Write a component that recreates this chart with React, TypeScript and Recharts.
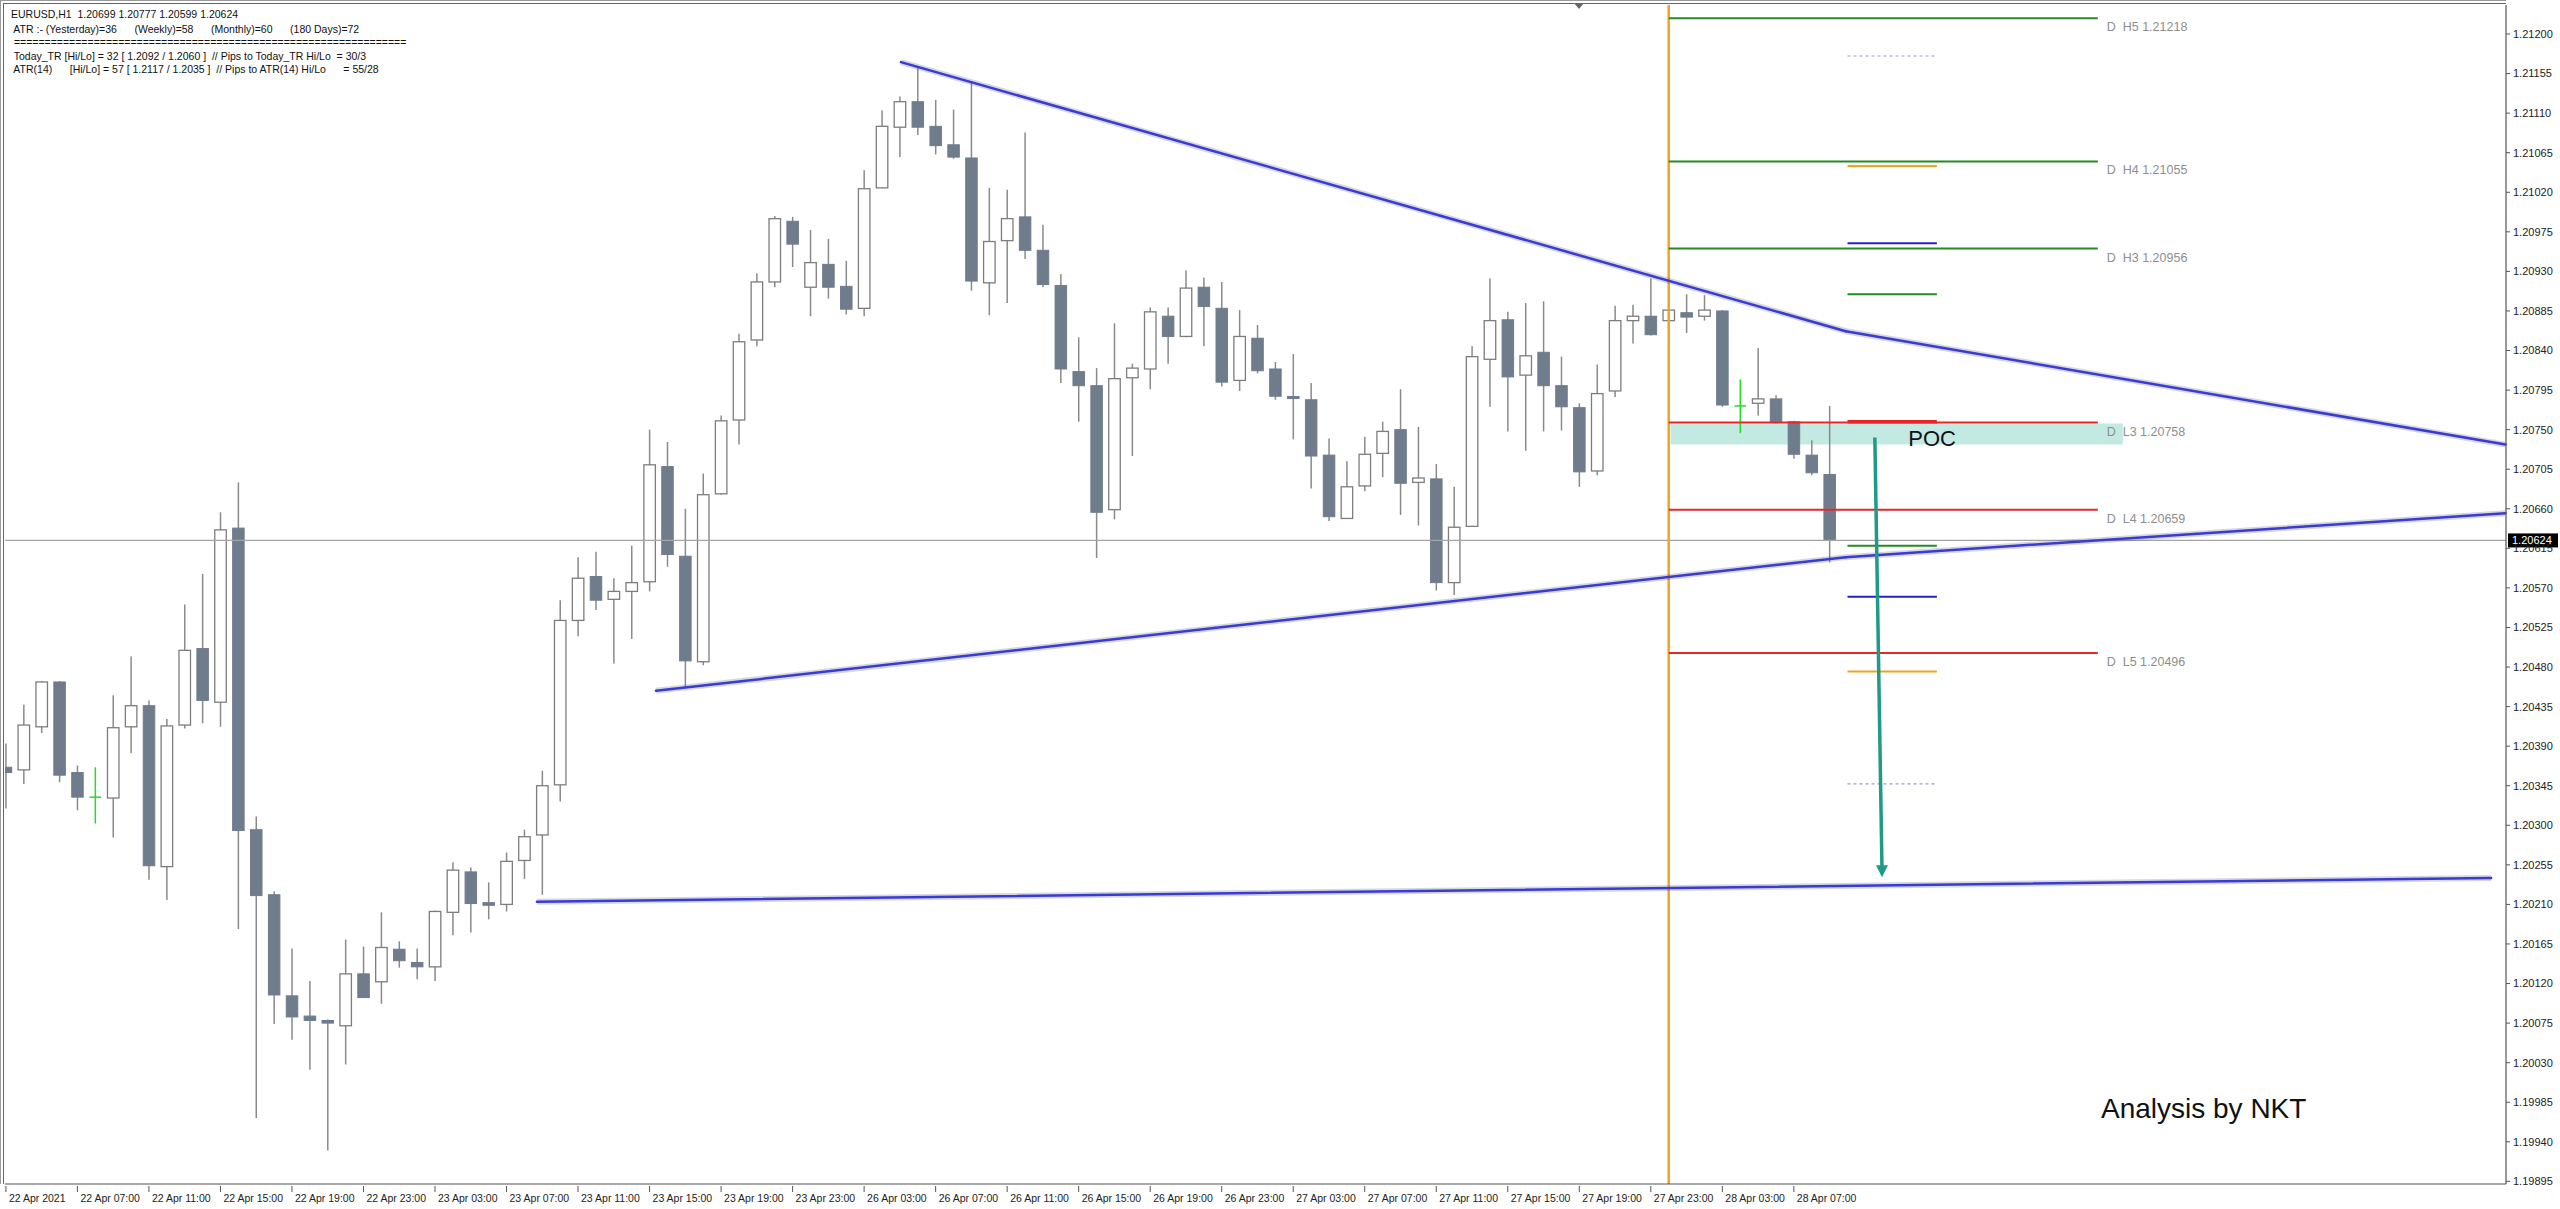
import React from "react";
import {
  ComposedChart,
  Bar,
  XAxis,
  YAxis,
  ReferenceLine,
  ReferenceArea,
  ReferenceDot,
} from "recharts";

// ---------- DATA ----------
const opens = [
  1.20366, 1.20363, 1.20412, 1.20463, 1.2036, 1.20332, 1.20331, 1.20412, 1.20436, 1.20253,
  1.20414, 1.20501, 1.2044, 1.20638, 1.20295, 1.20221, 1.20106, 1.20083, 1.20078, 1.20072,
  1.20131, 1.20122, 1.20159, 1.20144, 1.20139, 1.20201, 1.20247, 1.20212, 1.2021, 1.2026,
  1.20289, 1.20346, 1.20533, 1.20583, 1.20557, 1.20566, 1.20577, 1.20708, 1.20606, 1.20486,
  1.20677, 1.20761, 1.20852, 1.20918, 1.20987, 1.20912, 1.20938, 1.20913, 1.20888, 1.21025,
  1.21094, 1.21123, 1.21095, 1.21074, 1.21059, 1.20917, 1.20965, 1.20992, 1.20954, 1.20914,
  1.20816, 1.208, 1.20659, 1.20809, 1.20819, 1.20879, 1.20856, 1.20912, 1.20888, 1.20806,
  1.20854, 1.20819, 1.20787, 1.20784, 1.20721, 1.20649, 1.20686, 1.20723, 1.2075, 1.2069,
  1.20694, 1.20576, 1.2064, 1.2083, 1.20875, 1.20812, 1.20838, 1.208, 1.20775, 1.20703,
  1.20794, 1.20874, 1.20879, 1.20874, 1.20883, 1.20879, 1.20885, 1.20777, 1.2078, 1.20785,
  1.20759, 1.20721, 1.20699,
];
const highs = [
  1.20393, 1.20437, 1.20464, 1.20464, 1.20368, 1.20366, 1.20448, 1.20492, 1.20442, 1.20421,
  1.20551, 1.20586, 1.20656, 1.2069, 1.2031, 1.20225, 1.2016, 1.20123, 1.20079, 1.2017,
  1.20162, 1.20201, 1.20168, 1.2016, 1.20203, 1.20258, 1.20252, 1.20235, 1.20269, 1.20295,
  1.20362, 1.20556, 1.20605, 1.20611, 1.20581, 1.20618, 1.2075, 1.20736, 1.2066, 1.207,
  1.20766, 1.20859, 1.20928, 1.20993, 1.20992, 1.20977, 1.20967, 1.20942, 1.21045, 1.21113,
  1.21129, 1.21162, 1.21125, 1.21114, 1.21145, 1.21025, 1.21023, 1.21088, 1.20983, 1.20927,
  1.20855, 1.2082, 1.20871, 1.20825, 1.20889, 1.20889, 1.20931, 1.20923, 1.20918, 1.20886,
  1.20869, 1.20827, 1.20836, 1.20803, 1.2074, 1.20714, 1.20742, 1.20759, 1.20796, 1.20753,
  1.20711, 1.20685, 1.20845, 1.20922, 1.20884, 1.20894, 1.20896, 1.20833, 1.2078, 1.20824,
  1.20891, 1.20892, 1.20922, 1.20908, 1.20904, 1.20903, 1.20886, 1.20807, 1.20843, 1.20789,
  1.2076, 1.20738, 1.20777,
];
const lows = [
  1.20319, 1.20347, 1.20405, 1.20349, 1.20317, 1.20302, 1.20286, 1.20382, 1.20238, 1.20215,
  1.2041, 1.20416, 1.20412, 1.20182, 1.19967, 1.20074, 1.20056, 1.20022, 1.1993, 1.20028,
  1.20104, 1.20097, 1.20138, 1.20125, 1.20123, 1.20175, 1.20178, 1.20193, 1.20202, 1.20239,
  1.20221, 1.20327, 1.20515, 1.20545, 1.20484, 1.20512, 1.20566, 1.20594, 1.20456, 1.20482,
  1.20676, 1.20733, 1.20845, 1.20912, 1.20935, 1.20879, 1.20899, 1.20881, 1.20879, 1.21025,
  1.2106, 1.21085, 1.21063, 1.21058, 1.20908, 1.2088, 1.20894, 1.20944, 1.20912, 1.20803,
  1.20759, 1.20604, 1.20648, 1.2072, 1.20796, 1.20825, 1.20855, 1.20845, 1.20799, 1.20794,
  1.20814, 1.20784, 1.20739, 1.20683, 1.20646, 1.20649, 1.2068, 1.20696, 1.20653, 1.20641,
  1.20567, 1.20562, 1.2064, 1.20776, 1.20748, 1.20726, 1.20748, 1.20749, 1.20685, 1.20698,
  1.20787, 1.20848, 1.20857, 1.20852, 1.2086, 1.20874, 1.20776, 1.20746, 1.20766, 1.20757,
  1.20717, 1.20698, 1.20599,
];
const closes = [
  1.2036, 1.20414, 1.20463, 1.20357, 1.20332, 1.20332, 1.20411, 1.20436, 1.20254, 1.20413,
  1.20499, 1.20442, 1.20636, 1.20294, 1.2022, 1.20107, 1.20082, 1.20078, 1.20075, 1.20131,
  1.20104, 1.20161, 1.20146, 1.20139, 1.20202, 1.20249, 1.20211, 1.20209, 1.20259, 1.20287,
  1.20345, 1.20533, 1.20581, 1.20556, 1.20566, 1.20576, 1.2071, 1.20608, 1.20487, 1.20676,
  1.2076, 1.2085, 1.20918, 1.2099, 1.20961, 1.2094, 1.20912, 1.20887, 1.21024, 1.21095,
  1.21123, 1.21094, 1.21073, 1.2106, 1.20919, 1.20964, 1.2099, 1.20954, 1.20915, 1.20819,
  1.208, 1.20656, 1.20808, 1.2082, 1.20884, 1.20856, 1.20911, 1.2089, 1.20804, 1.20856,
  1.20817, 1.20788, 1.20786, 1.2072, 1.20651, 1.20685, 1.20722, 1.20748, 1.20689, 1.20695,
  1.20576, 1.20639, 1.20833, 1.20874, 1.2081, 1.20834, 1.208, 1.20776, 1.20702, 1.20791,
  1.20874, 1.20879, 1.20858, 1.20886, 1.20878, 1.20886, 1.20778, 1.20777, 1.20785, 1.20758,
  1.20722, 1.20701, 1.20624,
];

const xTickBars = [0, 4, 8, 12, 16, 20, 24, 28, 32, 36, 40, 44, 48, 52, 56, 60, 64, 68, 72, 76, 80, 84, 88, 92, 96, 100];
const xTickLabels = [
  "22 Apr 2021", "22 Apr 07:00", "22 Apr 11:00", "22 Apr 15:00", "22 Apr 19:00", "22 Apr 23:00",
  "23 Apr 03:00", "23 Apr 07:00", "23 Apr 11:00", "23 Apr 15:00", "23 Apr 19:00", "23 Apr 23:00",
  "26 Apr 03:00", "26 Apr 07:00", "26 Apr 11:00", "26 Apr 15:00", "26 Apr 19:00", "26 Apr 23:00",
  "27 Apr 03:00", "27 Apr 07:00", "27 Apr 11:00", "27 Apr 15:00", "27 Apr 19:00", "27 Apr 23:00",
  "28 Apr 03:00", "28 Apr 07:00",
];
const yTicks = [
  1.19895, 1.1994, 1.19985, 1.2003, 1.20075, 1.2012, 1.20165, 1.2021, 1.20255, 1.203,
  1.20345, 1.2039, 1.20435, 1.2048, 1.20525, 1.2057, 1.20615, 1.2066, 1.20705, 1.2075,
  1.20795, 1.2084, 1.20885, 1.2093, 1.20975, 1.2102, 1.21065, 1.2111, 1.21155, 1.212,
];

const currentPrice = 1.20624;
const dayStartBar = 93;
const pivotEndBar = 117;
const pivotLabelBar = 117.5;
const pivotNames = ["H5", "H4", "H3", "L3", "L4", "L5"];
const pivotLevels = [1.21218, 1.21055, 1.20956, 1.20758, 1.20659, 1.20496];

const shortStartBar = 103;
const shortEndBar = 108;
const shortKinds = ["mid", "orange", "blue", "green", "poc", "green", "blue", "orange", "mid"];
const shortLevels = [1.21175, 1.2105, 1.20962, 1.20904, 1.20759, 1.20618, 1.2056, 1.20475, 1.20347];

const pocBand = { x1: 93.1, x2: 118.4, y1: 1.20733, y2: 1.20757 };
const pocLabel = { x: 106.4, y: 1.20731 };

// trendlines as [bar, price] vertices
const upperTrend = [
  [50.06, 1.21168],
  [102.9, 1.20862],
  [139.8, 1.20733],
];
const lowerTrend = [
  [36.36, 1.20453],
  [102.9, 1.20605],
  [139.8, 1.20655],
];
const bottomTrend = [
  [29.7, 1.20213],
  [139.0, 1.2024],
];
const arrowLine = [
  [104.53, 1.20741],
  [104.93, 1.2025],
];

const headerLines = [
  "EURUSD,H1  1.20699 1.20777 1.20599 1.20624",
  " ATR :- (Yesterday)=36      (Weekly)=58      (Monthly)=60      (180 Days)=72",
  " ================================================================",
  " Today_TR [Hi/Lo] = 32 [ 1.2092 / 1.2060 ]  // Pips to Today_TR Hi/Lo  = 30/3",
  " ATR(14)      [Hi/Lo] = 57 [ 1.2117 / 1.2035 ]  // Pips to ATR(14) Hi/Lo      = 55/28",
];

// ---------- STYLES ----------
const COLORS = {
  bear: "#6f7c8c",
  bullStroke: "#7d7d7d",
  wick: "#8a8a8a",
  doji: "#22dd22",
  trend: "#3a3ad4",
  green: "#228b22",
  red: "#e8262a",
  orange: "#f4a31f",
  blue: "#2323c8",
  mid: "#a596cf",
  teal: "#1f9a86",
  band: "#8fd9cc",
  axis: "#555555",
};
const shortColor: Record<string, string> = {
  mid: COLORS.mid,
  orange: COLORS.orange,
  blue: COLORS.blue,
  green: COLORS.green,
  poc: COLORS.red,
};
const pivotColor = (n: string) => (n.startsWith("H") ? COLORS.green : COLORS.red);

const data = opens.map((o, i) => ({
  i,
  o,
  h: highs[i],
  l: lows[i],
  c: closes[i],
  range: [lows[i], highs[i]],
}));

const Candle = (props: any) => {
  const { x, y, width, height, payload } = props;
  if (!payload || x == null) return null;
  const { o, h, l, c } = payload;
  const top = Math.min(y, y + height);
  const bot = Math.max(y, y + height);
  const k = h > l ? (bot - top) / (h - l) : 0;
  const py = (p: number) => top + (h - p) * k;
  const cx = x + width / 2;
  const bw = 11.5;
  if (o === c) {
    return (
      <g>
        <line x1={cx} x2={cx} y1={top} y2={bot} stroke={COLORS.doji} strokeWidth={1.5} />
        <line x1={cx - bw / 2} x2={cx + bw / 2} y1={py(o)} y2={py(o)} stroke={COLORS.doji} strokeWidth={1.5} />
      </g>
    );
  }
  const bull = c > o;
  let bt = py(Math.max(o, c));
  let bb = py(Math.min(o, c));
  if (bb - bt < 2) {
    const m = (bt + bb) / 2;
    bt = m - 1;
    bb = m + 1;
  }
  return (
    <g>
      <line x1={cx} x2={cx} y1={top} y2={bot} stroke={COLORS.wick} strokeWidth={1.5} />
      {bull ? (
        <rect x={cx - bw / 2} y={bt} width={bw} height={bb - bt} fill="#ffffff" stroke={COLORS.bullStroke} strokeWidth={1.3} />
      ) : (
        <rect x={cx - bw / 2} y={bt} width={bw} height={bb - bt} fill={COLORS.bear} stroke={COLORS.bear} strokeWidth={1} />
      )}
    </g>
  );
};

const XTick = (props: any) => {
  const { x, y, payload } = props;
  const idx = xTickBars.indexOf(payload.value);
  const label = idx >= 0 ? xTickLabels[idx] : "";
  return (
    <g>
      <line x1={x} x2={x} y1={y} y2={y + 6} stroke={COLORS.axis} strokeWidth={1} />
      <text x={x + 3} y={y + 16} fontSize={10.5} fontFamily="Liberation Sans, Arial, sans-serif" fill="#222" textAnchor="start">
        {label}
      </text>
    </g>
  );
};

// split a polyline into consecutive segments
const segs = (s: number[][]) =>
  s.slice(1).map((pt, j) => [
    { x: s[j][0], y: s[j][1] },
    { x: pt[0], y: pt[1] },
  ]);

const trendSegments = [upperTrend, lowerTrend, bottomTrend].flatMap((t) => segs(t));

export default function App() {
  const W = 2560;
  const H = 1209;
  return (
    <div style={{ position: "absolute", left: 0, top: 0, width: W, height: H, background: "#ffffff", overflow: "hidden" }}>
      <ComposedChart
        width={W}
        height={H}
        data={data}
        margin={{ top: 5, right: 0, bottom: 0, left: 5 }}
        style={{ background: "#ffffff" }}
      >
        <XAxis
          dataKey="i"
          type="number"
          domain={[-0.05, 139.83]}
          allowDataOverflow
          ticks={xTickBars}
          interval={0}
          tick={<XTick />}
          tickLine={false}
          tickSize={0}
          axisLine={{ stroke: COLORS.axis, strokeWidth: 1.2 }}
          height={25}
        />
        <YAxis
          orientation="right"
          type="number"
          domain={[1.19892, 1.21233]}
          allowDataOverflow
          ticks={yTicks}
          interval={0}
          tickFormatter={(v: number) => v.toFixed(5)}
          width={54}
          tick={{ fontSize: 11, fill: "#222", fontFamily: "Liberation Sans, Arial, sans-serif" }}
          tickSize={4}
          tickMargin={3}
          axisLine={{ stroke: COLORS.axis, strokeWidth: 1.2 }}
          tickLine={{ stroke: COLORS.axis }}
        />

        <ReferenceLine y={currentPrice} stroke="#a5a5a5" strokeWidth={1.2} />
        <ReferenceLine x={dayStartBar} stroke={COLORS.orange} strokeWidth={2.5} />

        <Bar dataKey="range" barSize={12} isAnimationActive={false} shape={(p: any) => <Candle {...p} />} />

        <ReferenceArea
          x1={pocBand.x1}
          x2={pocBand.x2}
          y1={pocBand.y1}
          y2={pocBand.y2}
          fill={COLORS.band}
          fillOpacity={0.55}
          stroke="none"
        />

        {pivotLevels.map((p, k) => (
          <ReferenceLine
            key={"pv" + k}
            segment={[
              { x: dayStartBar, y: p },
              { x: pivotEndBar, y: p },
            ]}
            stroke={pivotColor(pivotNames[k])}
            strokeWidth={2}
          />
        ))}
        {pivotLevels.map((p, k) => (
          <ReferenceDot
            key={"pl" + k}
            x={pivotLabelBar}
            y={p}
            r={0}
            ifOverflow="visible"
            shape={(pp: any) => (
              <text
                x={pp.cx}
                y={pp.cy + 13}
                fontSize={12.5}
                fontFamily="Liberation Sans, Arial, sans-serif"
                fill="#8e8e8e"
                style={{ whiteSpace: "pre" }}
              >
                {`D  ${pivotNames[k]} ${p.toFixed(5)}`}
              </text>
            )}
          />
        ))}

        {shortLevels.map((p, k) => (
          <ReferenceLine
            key={"sh" + k}
            segment={[
              { x: shortStartBar, y: p },
              { x: shortEndBar, y: p },
            ]}
            stroke={shortColor[shortKinds[k]]}
            strokeWidth={shortKinds[k] === "poc" ? 3.5 : shortKinds[k] === "mid" ? 1.2 : 2}
            strokeDasharray={shortKinds[k] === "mid" ? "3 3" : undefined}
          />
        ))}

        {trendSegments.map((s, k) => (
          <ReferenceLine key={"tsh" + k} segment={s} stroke="rgba(70,70,120,0.22)" strokeWidth={6} ifOverflow="visible" />
        ))}
        {trendSegments.map((s, k) => (
          <ReferenceLine
            key={"tr" + k}
            segment={s}
            stroke={COLORS.trend}
            strokeWidth={2.5}
            strokeLinecap="round"
            ifOverflow="visible"
          />
        ))}

        <ReferenceLine
          segment={[
            { x: arrowLine[0][0], y: arrowLine[0][1] },
            { x: arrowLine[1][0], y: arrowLine[1][1] },
          ]}
          stroke={COLORS.teal}
          strokeWidth={3.5}
          ifOverflow="visible"
        />
        <ReferenceDot
          x={arrowLine[1][0]}
          y={arrowLine[1][1]}
          r={0}
          ifOverflow="visible"
          shape={(pp: any) => (
            <polygon
              points={`${pp.cx - 6},${pp.cy - 4} ${pp.cx + 6},${pp.cy - 4} ${pp.cx},${pp.cy + 8}`}
              fill={COLORS.teal}
            />
          )}
        />

        <ReferenceDot
          x={pocLabel.x}
          y={pocLabel.y}
          r={0}
          ifOverflow="visible"
          shape={(pp: any) => (
            <text x={pp.cx} y={pp.cy} fontSize={22} fontFamily="Liberation Sans, Arial, sans-serif" fill="#111">
              POC
            </text>
          )}
        />

        <ReferenceDot
          x={139.83}
          y={currentPrice}
          r={0}
          ifOverflow="visible"
          shape={(pp: any) => (
            <g>
              <rect x={pp.cx + 2} y={pp.cy - 7} width={50} height={14} fill="#000" />
              <text
                x={pp.cx + 6}
                y={pp.cy + 4}
                fontSize={11}
                fontFamily="Liberation Sans, Arial, sans-serif"
                fill="#fff"
              >
                {currentPrice.toFixed(5)}
              </text>
            </g>
          )}
        />
      </ComposedChart>

      {/* window frame */}
      <div style={{ position: "absolute", left: 0, top: 0, width: 2506, height: 1184, borderLeft: "1px solid #9a9a9a", borderTop: "1px solid #9a9a9a", boxSizing: "border-box", pointerEvents: "none" }} />
      <div style={{ position: "absolute", left: 3, top: 3, width: 2503, height: 1181, borderLeft: "1px solid #666", borderTop: "1px solid #666", boxSizing: "border-box", pointerEvents: "none" }} />
      <div
        style={{
          position: "absolute",
          left: 1574,
          top: 3,
          width: 0,
          height: 0,
          borderLeft: "5px solid transparent",
          borderRight: "5px solid transparent",
          borderTop: "6px solid #666",
        }}
      />

      {/* header info */}
      {headerLines.map((t, k) => (
        <div
          key={"hd" + k}
          style={{
            position: "absolute",
            left: 11,
            top: [8, 23, 36, 50, 63][k],
            fontFamily: "Liberation Sans, Arial, sans-serif",
            fontSize: 10.5,
            lineHeight: "13px",
            color: "#111",
            whiteSpace: "pre",
          }}
        >
          {t}
        </div>
      ))}

      <div
        style={{
          position: "absolute",
          left: 2101,
          top: 1093,
          fontFamily: "Liberation Sans, Arial, sans-serif",
          fontSize: 28,
          lineHeight: "32px",
          color: "#111",
          whiteSpace: "pre",
        }}
      >
        Analysis by NKT
      </div>
    </div>
  );
}
